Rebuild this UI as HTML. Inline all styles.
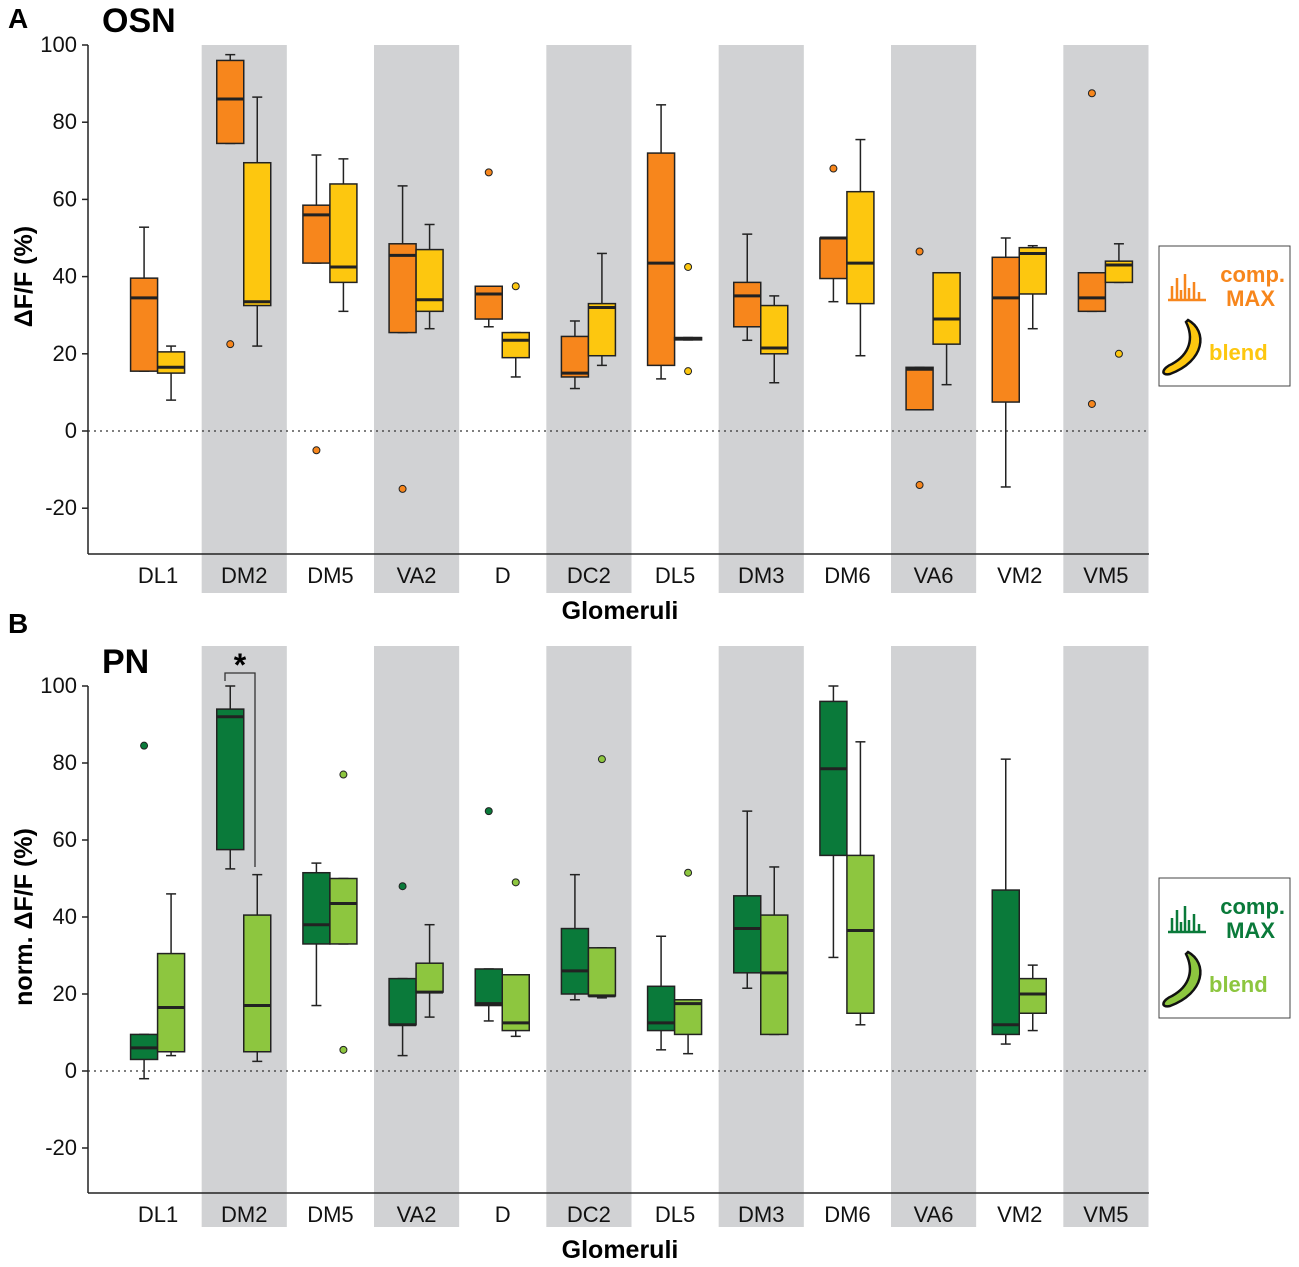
<!DOCTYPE html>
<html><head><meta charset="utf-8"><style>
body{margin:0;background:#fff}
svg text{font-family:"Liberation Sans",Arial,sans-serif}
</style></head><body>
<svg id="c" width="1299" height="1262" viewBox="0 0 1299 1262" xmlns="http://www.w3.org/2000/svg"></svg>
<script>
const categories=["DL1","DM2","DM5","VA2","D","DC2","DL5","DM3","DM6","VA6","VM2","VM5"];
const yTicks=[100,80,60,40,20,0,-20];
// [q3,q1,median,whiskerTop,whiskerBottom]
const osnMax=[[39.6,15.5,34.5,52.8,15.5],[96,74.5,86,97.5,74.5],[58.5,43.5,56,71.5,43.5],[48.5,25.5,45.5,63.5,25.5],[37.5,29,35.5,37.5,27],[24.5,14,15,28.5,11],[72,17,43.5,84.5,13.5],[38.5,27,35,51,23.5],[50,39.5,50,50,33.5],[16.5,5.5,16,16.5,5.5],[45,7.5,34.5,50,-14.5],[41,31,34.5,41,31]];
const osnMaxOut=[[],[22.5],[-5],[-15],[67],[],[],[],[68],[46.5,-14],[],[87.5,7]];
const osnBlend=[[20.5,15,16.5,22,8],[69.5,32.5,33.5,86.5,22],[64,38.5,42.5,70.5,31],[47,31,34,53.5,26.5],[25.5,19,23.5,25.5,14],[33,19.5,32,46,17],[24.2,23.6,24,24.2,23.6],[32.5,20,21.5,35,12.5],[62,33,43.5,75.5,19.5],[41,22.5,29,41,12],[47.5,35.5,46,48,26.5],[44,38.5,43,48.5,38.5]];
const osnBlendOut=[[],[],[],[],[37.5],[],[42.5,15.5],[],[],[],[],[20]];
const pnMax=[[9.5,3,6,9.5,-2],[94,57.5,92,100,52.5],[51.5,33,38,54,17],[24,12,12,24,4],[26.5,17,17.5,26.5,13],[37,20,26,51,18.5],[22,10.5,12.5,35,5.5],[45.5,25.5,37,67.5,21.5],[96,56,78.5,100,29.5],null,[47,9.5,12,81,7],null];
const pnMaxOut=[[84.5],[],[],[48],[67.5],[],[],[],[],[],[],[]];
const pnBlend=[[30.5,5,16.5,46,4],[40.5,5,17,51,2.5],[50,33,43.5,50,33],[28,20.5,20.5,38,14],[25,10.5,12.5,25,9],[32,19.5,19.5,32,19],[18.5,9.5,17.5,18.5,4.5],[40.5,9.5,25.5,53,9.5],[56,15,36.5,85.5,12],null,[24,15,20,27.5,10.5],null];
const pnBlendOut=[[],[],[77,5.5],[],[49],[81],[51.5],[],[],[],[],[]];

const S=document.getElementById('c'),NS="http://www.w3.org/2000/svg";
function mk(t,a,p,txt){const e=document.createElementNS(NS,t);for(const k in a)e.setAttribute(k,a[k]);if(txt!==undefined)e.textContent=txt;(p||S).appendChild(e);return e;}
const x0=88,x1=1149,cw=(x1-115)/12;
function xc(i){return 115+cw*(i+0.5);}
function panel(o){
  const g=mk('g',{});
  
  
  const ys=v=>o.y0-(v/100)*(o.y0-o.y100);
  categories.forEach((c,i)=>{
    if(i%2==1){const r=mk('rect',{x:xc(i)-cw/2+0.5,y:o.bandTop,width:cw-1,height:o.bandBot-o.bandTop,fill:'#d1d2d4'},g);
      }
    const t=mk('text',{x:xc(i),y:o.axisY+29,'font-size':22,'text-anchor':'middle',fill:'#111'},g,c);
    
  });
  mk('line',{x1:x0,y1:o.axisTop,x2:x0,y2:o.axisY,stroke:'#222','stroke-width':1.5},g);
  mk('line',{x1:x0,y1:o.axisY,x2:x1,y2:o.axisY,stroke:'#222','stroke-width':1.5},g);
  mk('line',{x1:x0,y1:ys(0),x2:x1,y2:ys(0),stroke:'#333','stroke-width':1.3,'stroke-dasharray':'2,4'},g);
  yTicks.forEach(v=>{mk('line',{x1:x0-6,y1:ys(v),x2:x0,y2:ys(v),stroke:'#222','stroke-width':1.5},g);
    const t=mk('text',{x:x0-11,y:ys(v)+7,'font-size':22,'text-anchor':'end',fill:'#111'},g,v);
    });
  [[o.a,o.aOut,o.ca,-14],[o.b,o.bOut,o.cb,13]].forEach(([d,out,col,off])=>{
    d.forEach((b,i)=>{const cx=xc(i)+off,w=27;
      if(b){mk('line',{x1:cx,y1:ys(b[3]),x2:cx,y2:ys(b[4]),stroke:'#222','stroke-width':1.5},g);
        [3,4].forEach(k=>mk('line',{x1:cx-5,y1:ys(b[k]),x2:cx+5,y2:ys(b[k]),stroke:'#222','stroke-width':1.5},g));
        const r=mk('rect',{x:cx-w/2,y:ys(b[0]),width:w,height:Math.max(ys(b[1])-ys(b[0]),1),fill:col,stroke:'#222','stroke-width':1.5},g);
        
        mk('line',{x1:cx-w/2,y1:ys(b[2]),x2:cx+w/2,y2:ys(b[2]),stroke:'#222','stroke-width':3},g);}
      out[i].forEach(v=>{const p=mk('circle',{cx:cx,cy:ys(v),r:3.5,fill:col,stroke:'#222','stroke-width':1},g);
        });
    });});
  let t=mk('text',{x:620,y:o.axisY+65,'font-size':25,'font-weight':'bold','text-anchor':'middle'},g,'Glomeruli');
  
  t=mk('text',{x:0,y:0,'font-size':25,'font-weight':'bold','text-anchor':'middle',transform:`translate(32,${ys(40)}) rotate(-90)`},g,o.ylab);
  
  // legend
  const L=mk('g',{},g);
  const ly=o.legY;
  mk('rect',{x:1159,y:ly,width:131,height:140,fill:'#fff',stroke:'#444','stroke-width':1},L);
  mk('path',{d:`M1168 ${ly+54} h38 M1172 ${ly+54} v-14 M1177 ${ly+54} v-22 M1181 ${ly+54} v-10 M1185 ${ly+54} v-26 M1189 ${ly+54} v-12 M1194 ${ly+54} v-18 M1199 ${ly+54} v-8`,stroke:o.ca,'stroke-width':2.5,fill:'none'},L);
  mk('text',{x:1285,y:ly+36,'font-size':22,'font-weight':'bold','text-anchor':'end',fill:o.ca},L,'comp.');
  mk('text',{x:1275,y:ly+60,'font-size':22,'font-weight':'bold','text-anchor':'end',fill:o.ca},L,'MAX');
  mk('path',{d:`M1188 ${ly+74} C1208 ${ly+85},1205 ${ly+115},1170 ${ly+128} C1160 ${ly+130},1162 ${ly+122},1172 ${ly+118} C1190 ${ly+108},1194 ${ly+92},1186 ${ly+76} Z`,fill:o.cb,stroke:'#111','stroke-width':2.5},L);
  mk('text',{x:1209,y:ly+114,'font-size':22,'font-weight':'bold',fill:o.cb},L,'blend');
  return ys;
}
panel({name:'panel-osn',y100:45,y0:431,axisTop:45,axisY:554,bandTop:45,bandBot:593,a:osnMax,aOut:osnMaxOut,b:osnBlend,bOut:osnBlendOut,ca:'#f7861c',cb:'#fdc70f',ylab:'ΔF/F (%)',legY:246});
panel({name:'panel-pn',y100:686,y0:1071,axisTop:686,axisY:1193,bandTop:646,bandBot:1227,a:pnMax,aOut:pnMaxOut,b:pnBlend,bOut:pnBlendOut,ca:'#0a7a3a',cb:'#8dc63f',ylab:'norm. ΔF/F (%)',legY:878});
mk('text',{x:8,y:28,'font-size':28,'font-weight':'bold'},S,'A');
mk('text',{x:102,y:32,'font-size':34,'font-weight':'bold'},S,'OSN');
mk('text',{x:8,y:633,'font-size':28,'font-weight':'bold'},S,'B');
mk('text',{x:102,y:673,'font-size':34,'font-weight':'bold'},S,'PN');
mk('path',{d:'M225 681 V673 H255 V867',stroke:'#333','stroke-width':1.3,fill:'none'},S);
mk('text',{x:240,y:676,'font-size':32,'font-weight':'bold','text-anchor':'middle'},S,'*');
</script>
</body></html>
